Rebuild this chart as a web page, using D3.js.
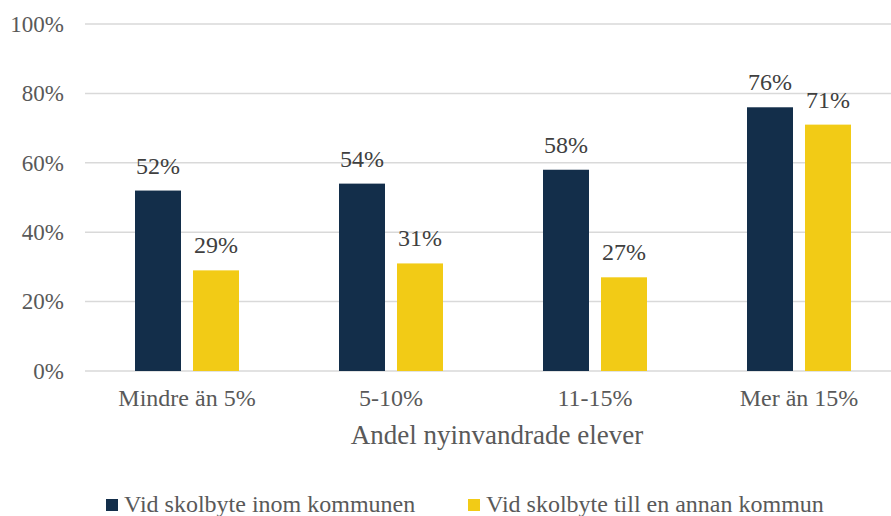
<!DOCTYPE html>
<html>
<head>
<meta charset="utf-8">
<script src="https://cdn.jsdelivr.net/npm/d3@7"></script>
<style>
  body{margin:0;background:#fff;}
</style>
</head>
<body>
<div id="chart"></div>
<script>
// data
var categories=["Mindre än 5%","5-10%","11-15%","Mer än 15%"];
var seriesNames=["Vid skolbyte inom kommunen","Vid skolbyte till en annan kommun"];
var inom=[52,54,58,76];
var annan=[29,31,27,71];
var yTicks=[0,20,40,60,80,100];
var colors=["#132E4A","#F2CB16"];

var FONT="Liberation Serif";
var width=891,height=516;
var margin={top:24,right:-10,bottom:145,left:85};

var svg=d3.select("#chart").append("svg")
    .attr("width",width)
    .attr("height",height);

var x=d3.scaleBand()
    .domain(categories)
    .range([margin.left,width-margin.right]);

var xInner=d3.scaleBand()
    .domain([0,1])
    .range([(x.bandwidth()-104)/2,(x.bandwidth()+104)/2])
    .paddingInner(0.207);

var y=d3.scaleLinear()
    .domain([0,100])
    .range([height-margin.bottom,margin.top]);

// gridlines
svg.append("g")
    .selectAll("line")
    .data(yTicks)
    .enter().append("line")
    .attr("x1",margin.left)
    .attr("x2",width)
    .attr("y1",function(d){return y(d)})
    .attr("y2",function(d){return y(d)})
    .attr("stroke","#d9d9d9")
    .attr("stroke-width",1.5);

// y axis labels
var yAxis=d3.axisLeft(y)
    .tickValues(yTicks)
    .tickFormat(function(d){return d+"%"})
    .tickSize(0)
    .tickPadding(21);

var yg=svg.append("g")
    .attr("transform","translate("+margin.left+",0)")
    .call(yAxis);
yg.select(".domain").remove();
yg.selectAll("text")
    .attr("fill","#595959")
    .attr("font-family",FONT)
    .attr("font-size",23);

var rows=categories.map(function(c,i){return {cat:c,vals:[inom[i],annan[i]]}});

var groups=svg.selectAll(".grp")
    .data(rows)
    .enter().append("g")
    .attr("class","grp")
    .attr("transform",function(d){return "translate("+x(d.cat)+",0)"});

groups.selectAll("rect")
    .data(function(d){return d.vals})
    .enter().append("rect")
    .attr("x",function(d,i){return xInner(i)})
    .attr("width",xInner.bandwidth())
    .attr("y",function(d){return y(d)})
    .attr("height",function(d){return y(0)-y(d)})
    .attr("fill",function(d,i){return colors[i]});

groups.selectAll(".lbl")
    .data(function(d){return d.vals})
    .enter().append("text")
    .attr("class","lbl")
    .attr("x",function(d,i){return xInner(i)+xInner.bandwidth()/2})
    .attr("y",function(d){return y(d)-17})
    .attr("text-anchor","middle")
    .attr("fill","#404040")
    .attr("font-family",FONT)
    .attr("font-size",24)
    .text(function(d){return d+"%"});

// x axis labels
var xAxis=d3.axisBottom(x).tickSize(0).tickPadding(0);
var xg=svg.append("g")
    .attr("transform","translate(0,"+y(0)+")")
    .call(xAxis);
xg.select(".domain").remove();
xg.selectAll("text")
    .attr("dy",null)
    .attr("y",35)
    .attr("fill","#595959")
    .attr("font-family",FONT)
    .attr("font-size",24);

// axis title
svg.append("text")
    .attr("x",497)
    .attr("y",444)
    .attr("text-anchor","middle")
    .attr("fill","#595959")
    .attr("font-family",FONT)
    .attr("font-size",27)
    .text("Andel nyinvandrade elever");

// legend
var legendX=[106,468];
var legend=svg.selectAll(".leg")
    .data(seriesNames)
    .enter().append("g")
    .attr("class","leg")
    .attr("transform",function(d,i){return "translate("+legendX[i]+",499)"});

legend.append("rect")
    .attr("x",0)
    .attr("y",0)
    .attr("width",12)
    .attr("height",12)
    .attr("fill",function(d,i){return colors[i]});

legend.append("text")
    .attr("x",18)
    .attr("y",13)
    .attr("fill","#595959")
    .attr("font-family",FONT)
    .attr("font-size",24)
    .text(function(d){return d});
</script>
</body>
</html>
